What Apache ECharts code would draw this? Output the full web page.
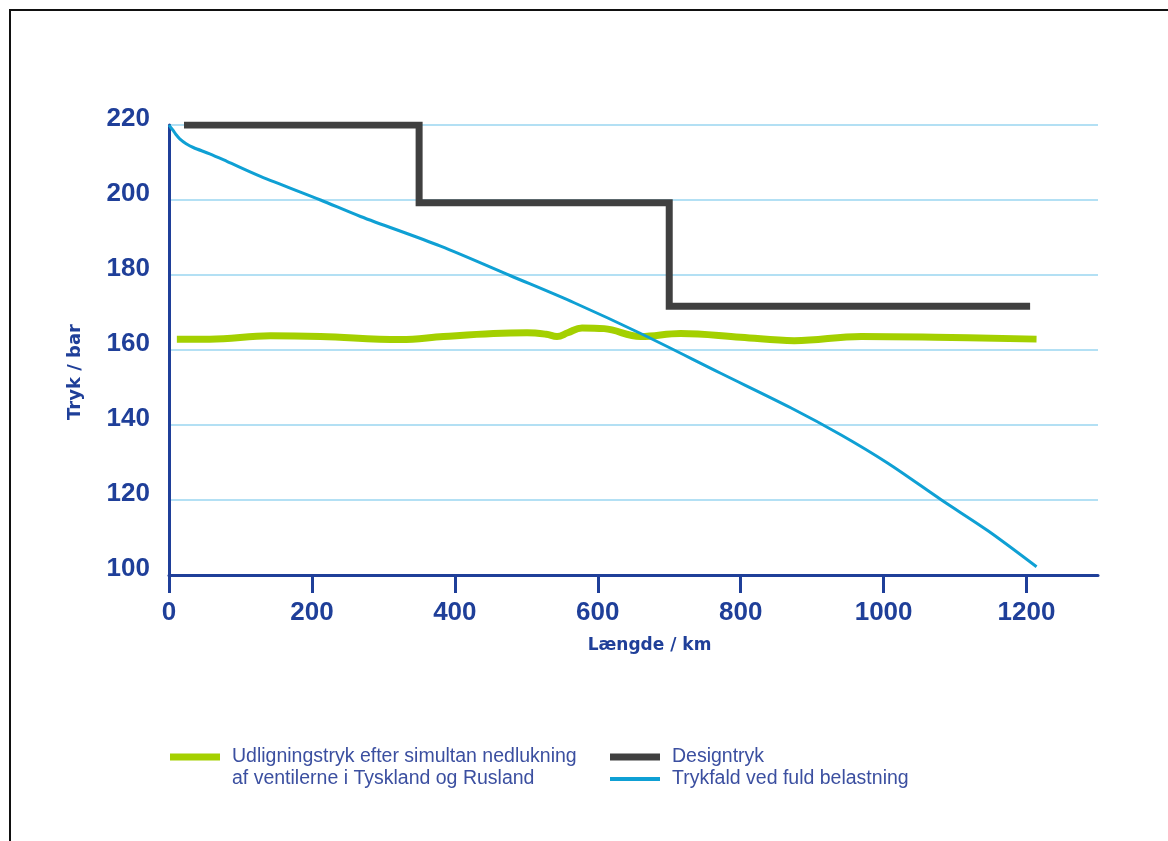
<!DOCTYPE html>
<html><head><meta charset="utf-8">
<script src="https://cdn.jsdelivr.net/npm/echarts@6/dist/echarts.min.js"></script>
<style>
html,body{margin:0;padding:0;background:#fff}
#c{width:1168px;height:841px}
#f{position:absolute;left:9px;top:9px;width:1159px;height:832px;border-top:2px solid #111;border-left:2px solid #111;box-sizing:border-box;pointer-events:none}
</style>
</head><body><div id="c"></div><div id="f"></div>
<script>
// ---- data ----
const xTicks = [0, 200, 400, 600, 800, 1000, 1200];
const yTicks = [100, 120, 140, 160, 180, 200, 220];
const nameGreen = 'Udligningstryk efter simultan nedlukning\naf ventilerne i Tyskland og Rusland';
const nameDesign = 'Designtryk';
const nameBlue = 'Trykfald ved fuld belastning';
// [km, bar]
const designData = [[21,220],[350,220],[350,199.3],[700,199.3],[700,171.7],[1205,171.7]];
const greenData = [[11,162.9],[57,162.9],[142,163.8],[212,163.6],[324,162.8],[384,163.6],[454,164.4],[501,164.6],[528,164.2],[543,163.6],[558,164.6],[578,165.9],[609,165.7],[660,163.6],[716,164.4],[800,163.4],[875,162.5],[969,163.6],[1072,163.4],[1214,162.9]];
const blueData = [[0,220],[3,219.2],[6,218.5],[10,217.4],[15,216.3],[24,215.0],[34,214.0],[57,212.3],[81,210.3],[128,206.3],[212,200.0],[268,195.6],[380,187.7],[478,179.8],[567,172.6],[660,164.4],[772,153.8],[870,144.6],[940,137.4],[1006,129.8],[1081,120.0],[1146,111.8],[1214,102.2]];

// ---- chart ----
const AX = '#1f3f99';
const LEG = '#3b4fa0';
const chart = echarts.init(document.getElementById('c'), null, {renderer: 'canvas'});
const legText = {color: LEG, fontFamily: 'Liberation Sans', fontSize: 19.5, lineHeight: 22, padding: [0,0,0,7]};
chart.setOption({
  animation: false,
  backgroundColor: '#fff',
  grid: {left: 169, right: 70, top: 125, bottom: 266},
  legend: [
    {data: [{name: nameGreen, icon: 'rect', itemStyle: {color: '#a4d000'}}], left: 170, top: 724, padding: 0,
     itemWidth: 50, itemHeight: 7, formatter: n => ' \n' + n, textStyle: legText, selectedMode: false},
    {data: [{name: nameDesign, icon: 'rect', itemStyle: {color: '#404040'}}], left: 610, top: 746, padding: 0,
     itemWidth: 50, itemHeight: 7, textStyle: legText, selectedMode: false},
    {data: [{name: nameBlue, icon: 'rect', itemStyle: {color: '#0fa0d4'}}], left: 610, top: 768, padding: 0,
     itemWidth: 50, itemHeight: 4, textStyle: legText, selectedMode: false}
  ],
  xAxis: {
    type: 'value', min: 0, max: 1300, interval: 100,
    name: 'Længde / km', nameLocation: 'middle', nameGap: 62,
    nameTextStyle: {color: AX, fontFamily: 'DejaVu Sans', fontWeight: 'bold', fontSize: 17, padding: [0,0,0,32]},
    axisLine: {show: true, onZero: false, lineStyle: {color: AX, width: 3}},
    axisTick: {show: true, length: 18, lineStyle: {color: AX, width: 3}, customValues: xTicks},
    axisLabel: {margin: 25, color: AX, fontFamily: 'Liberation Sans', fontWeight: 'bold', fontSize: 26,
                customValues: xTicks, formatter: v => String(v)},
    splitLine: {show: false}
  },
  yAxis: {
    type: 'value', min: 100, max: 220, interval: 20,
    name: 'Tryk / bar', nameLocation: 'middle', nameGap: 85, nameRotate: 90,
    nameTextStyle: {color: AX, fontFamily: 'DejaVu Sans', fontWeight: 'bold', fontSize: 18, padding: [0,44,0,0]},
    axisLine: {show: true, onZero: false, lineStyle: {color: AX, width: 3}},
    axisTick: {show: false},
    axisLabel: {margin: 19, color: AX, fontFamily: 'Liberation Sans', fontWeight: 'bold', fontSize: 26,
                verticalAlign: 'bottom', lineHeight: 13, formatter: v => String(v)},
    splitLine: {show: true, lineStyle: {color: '#9ad6f0', width: 1.5}}
  },
  series: [
    {name: nameDesign, type: 'line', data: designData, showSymbol: false, symbol: 'none', z: 3,
     lineStyle: {color: '#404040', width: 7, cap: 'butt', join: 'miter'}, itemStyle: {color: '#404040'}},
    {name: nameGreen, type: 'line', data: greenData, showSymbol: false, symbol: 'none', smooth: 0.4, z: 4,
     lineStyle: {color: '#a4d000', width: 7, cap: 'butt'}, itemStyle: {color: '#a4d000'}},
    {name: nameBlue, type: 'line', data: blueData, showSymbol: false, symbol: 'none', smooth: 0.3, z: 5,
     lineStyle: {color: '#0fa0d4', width: 3}, itemStyle: {color: '#0fa0d4'}}
  ]
});
</script>
</body></html>
